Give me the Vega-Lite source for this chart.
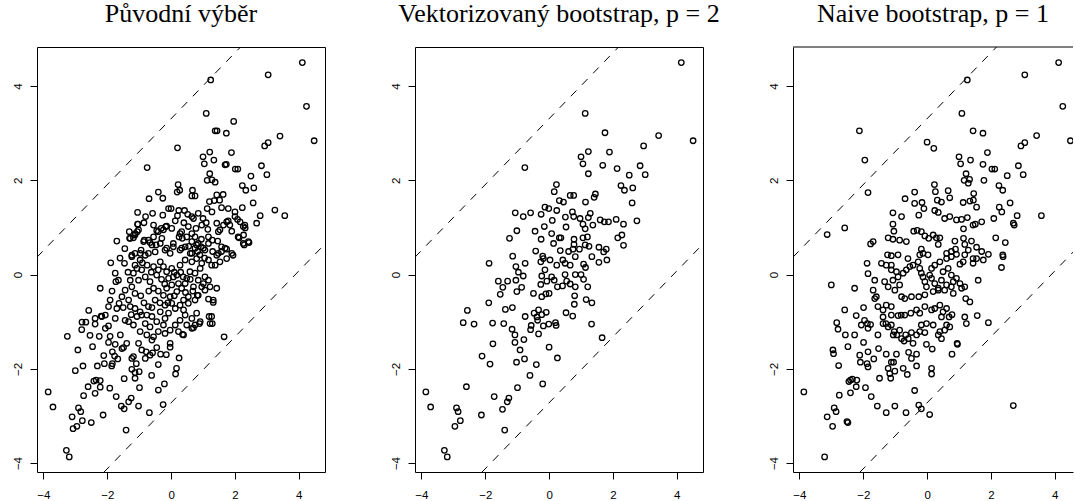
{
"$schema": "https://vega.github.io/schema/vega-lite/v6.json",
"autosize": {"type": "pad"},
"padding": {"left": 11, "top": 0, "right": 0, "bottom": 0},
"background": "white",
"bounds": "flush",
"spacing": 90,
"config": {
  "font": "Liberation Sans",
  "view": {"stroke": "black", "strokeWidth": 1},
  "axis": {"grid": false, "domain": false, "tickColor": "black", "tickSize": 7, "tickWidth": 1, "labelColor": "black", "labelFont": "Liberation Sans", "labelFontSize": 11.5, "labelFlush": false, "labelOverlap": false, "labelBound": false},
  "axisX": {"labelPadding": 10},
  "axisY": {"labelAngle": -90, "labelAlign": "center", "labelBaseline": "alphabetic", "labelPadding": 9},
  "title": {"font": "Liberation Serif", "fontSize": 26, "fontWeight": "normal", "color": "black", "baseline": "alphabetic", "offset": 20, "anchor": "middle", "frame": "group"}
},
"datasets": {
"lines": [{"l":"u","x":-4.2,"y":0.37},{"l":"u","x":4.82,"y":6.68},{"l":"d","x":-4.2,"y":-5.66},{"l":"d","x":4.82,"y":0.65}],
"pts": [
{"p":1,"x":4.11,"y":4.5},{"p":1,"x":3.04,"y":4.24},{"p":1,"x":1.24,"y":4.13},{"p":1,"x":4.24,"y":3.57},{"p":1,"x":4.48,"y":2.84},{"p":1,"x":1.1,"y":3.42},{"p":1,"x":1.96,"y":3.25},{"p":1,"x":1.38,"y":3.05},{"p":1,"x":1.44,"y":3.05},{"p":1,"x":1.73,"y":3.0},{"p":1,"x":3.41,"y":2.94},{"p":1,"x":0.2,"y":2.69},{"p":1,"x":3.04,"y":2.8},{"p":1,"x":2.93,"y":2.73},{"p":1,"x":1.0,"y":2.5},{"p":1,"x":1.21,"y":2.6},{"p":1,"x":1.89,"y":2.59},{"p":1,"x":1.34,"y":2.43},{"p":1,"x":1.04,"y":2.35},{"p":1,"x":-0.75,"y":2.27},{"p":1,"x":1.69,"y":2.33},{"p":1,"x":1.73,"y":2.34},{"p":1,"x":2.01,"y":2.24},{"p":1,"x":2.09,"y":2.24},{"p":1,"x":2.83,"y":2.31},{"p":1,"x":3.0,"y":2.12},{"p":1,"x":2.5,"y":2.09},{"p":1,"x":1.21,"y":2.14},{"p":1,"x":1.13,"y":2.0},{"p":1,"x":1.28,"y":2.01},{"p":1,"x":1.38,"y":1.96},{"p":1,"x":0.22,"y":1.91},{"p":1,"x":2.23,"y":1.89},{"p":1,"x":2.34,"y":1.79},{"p":1,"x":2.59,"y":1.84},{"p":1,"x":-0.4,"y":1.75},{"p":1,"x":0.19,"y":1.75},{"p":1,"x":0.27,"y":1.79},{"p":1,"x":0.67,"y":1.79},{"p":1,"x":0.75,"y":1.67},{"p":1,"x":0.65,"y":1.67},{"p":1,"x":1.43,"y":1.69},{"p":1,"x":1.63,"y":1.7},{"p":1,"x":-0.26,"y":1.62},{"p":1,"x":-0.69,"y":1.61},{"p":1,"x":1.2,"y":1.55},{"p":1,"x":1.35,"y":1.57},{"p":1,"x":1.52,"y":1.58},{"p":1,"x":2.57,"y":1.52},{"p":1,"x":3.25,"y":1.37},{"p":1,"x":3.56,"y":1.25},{"p":1,"x":2.79,"y":1.25},{"p":1,"x":2.68,"y":1.09},{"p":1,"x":-1.05,"y":1.32},{"p":1,"x":-0.8,"y":1.23},{"p":1,"x":-0.58,"y":1.3},{"p":1,"x":-0.26,"y":1.26},{"p":1,"x":-0.08,"y":1.4},{"p":1,"x":0.0,"y":1.4},{"p":1,"x":0.24,"y":1.36},{"p":1,"x":0.42,"y":1.36},{"p":1,"x":0.52,"y":1.28},{"p":1,"x":0.65,"y":1.23},{"p":1,"x":0.85,"y":1.3},{"p":1,"x":1.0,"y":1.19},{"p":1,"x":1.13,"y":1.4},{"p":1,"x":1.28,"y":1.33},{"p":1,"x":1.58,"y":1.42},{"p":1,"x":1.79,"y":1.4},{"p":1,"x":2.0,"y":1.33},{"p":1,"x":2.08,"y":1.17},{"p":1,"x":2.23,"y":1.42},{"p":1,"x":2.31,"y":1.05},{"p":1,"x":2.32,"y":0.99},{"p":1,"x":2.13,"y":0.78},{"p":1,"x":2.27,"y":0.84},{"p":1,"x":2.29,"y":0.63},{"p":1,"x":2.44,"y":0.68},{"p":1,"x":-1.7,"y":0.71},{"p":1,"x":-1.3,"y":0.77},{"p":1,"x":-1.18,"y":0.78},{"p":1,"x":-1.06,"y":0.91},{"p":1,"x":-1.04,"y":1.07},{"p":1,"x":-0.84,"y":0.73},{"p":1,"x":-0.66,"y":0.68},{"p":1,"x":-0.55,"y":0.8},{"p":1,"x":-0.45,"y":0.93},{"p":1,"x":-0.31,"y":0.98},{"p":1,"x":-0.17,"y":1.02},{"p":1,"x":0.02,"y":0.98},{"p":1,"x":0.13,"y":1.14},{"p":1,"x":0.33,"y":0.91},{"p":1,"x":0.49,"y":0.8},{"p":1,"x":0.7,"y":1.19},{"p":1,"x":0.78,"y":0.98},{"p":1,"x":0.96,"y":1.05},{"p":1,"x":1.15,"y":0.96},{"p":1,"x":1.17,"y":0.8},{"p":1,"x":1.43,"y":1.09},{"p":1,"x":1.53,"y":0.95},{"p":1,"x":1.74,"y":1.12},{"p":1,"x":1.84,"y":1.05},{"p":1,"x":1.9,"y":0.92},{"p":1,"x":1.46,"y":0.71},{"p":1,"x":1.58,"y":0.59},{"p":1,"x":1.74,"y":0.54},{"p":1,"x":1.94,"y":0.41},{"p":1,"x":-1.23,"y":0.41},{"p":1,"x":-0.94,"y":0.52},{"p":1,"x":-0.71,"y":0.45},{"p":1,"x":-0.47,"y":0.63},{"p":1,"x":-0.29,"y":0.77},{"p":1,"x":-0.14,"y":0.56},{"p":1,"x":0.07,"y":0.66},{"p":1,"x":0.25,"y":0.8},{"p":1,"x":0.33,"y":0.56},{"p":1,"x":0.65,"y":0.7},{"p":1,"x":0.8,"y":0.63},{"p":1,"x":0.83,"y":0.49},{"p":1,"x":1.01,"y":0.56},{"p":1,"x":1.17,"y":0.66},{"p":1,"x":1.3,"y":0.49},{"p":1,"x":1.48,"y":0.45},{"p":1,"x":-1.13,"y":0.84},{"p":1,"x":-1.31,"y":0.91},
{"p":1,"x":-1.05,"y":1.07},{"p":1,"x":-1.28,"y":0.77},{"p":1,"x":-1.13,"y":0.87},{"p":1,"x":-1.02,"y":0.95},{"p":1,"x":-0.86,"y":0.7},{"p":1,"x":-0.71,"y":0.73},{"p":1,"x":-0.4,"y":0.91},{"p":1,"x":-0.24,"y":0.95},{"p":1,"x":-0.14,"y":1.03},{"p":1,"x":0.28,"y":0.87},{"p":1,"x":0.35,"y":0.77},{"p":1,"x":0.54,"y":1.02},{"p":1,"x":0.65,"y":0.87},{"p":1,"x":0.75,"y":0.8},{"p":1,"x":0.85,"y":0.66},{"p":1,"x":0.94,"y":0.59},{"p":1,"x":1.06,"y":0.52},{"p":1,"x":0.75,"y":0.56},{"p":1,"x":0.65,"y":0.45},{"p":1,"x":0.44,"y":0.59},{"p":1,"x":0.28,"y":0.52},{"p":1,"x":0.07,"y":0.59},{"p":1,"x":-0.03,"y":0.45},{"p":1,"x":-0.19,"y":0.52},{"p":1,"x":-0.34,"y":0.66},{"p":1,"x":-0.5,"y":0.48},{"p":1,"x":-0.6,"y":0.63},{"p":1,"x":-0.81,"y":0.41},{"p":1,"x":-0.97,"y":0.45},{"p":1,"x":-1.13,"y":0.45},{"p":1,"x":1.29,"y":0.73},{"p":1,"x":1.48,"y":0.91},{"p":1,"x":1.64,"y":1.05},{"p":1,"x":1.79,"y":1.14},{"p":1,"x":2.0,"y":1.23},{"p":1,"x":2.16,"y":1.12},{"p":1,"x":2.26,"y":1.02},{"p":1,"x":2.1,"y":0.8},{"p":1,"x":2.26,"y":0.66},{"p":1,"x":2.42,"y":0.7},{"p":1,"x":1.69,"y":0.56},{"p":1,"x":1.58,"y":0.49},{"p":1,"x":1.43,"y":0.41},{"p":1,"x":1.9,"y":0.45},
{"p":1,"x":-1.89,"y":0.25},{"p":1,"x":-1.46,"y":0.24},{"p":1,"x":-1.75,"y":0.03},{"p":1,"x":-1.65,"y":-0.12},{"p":1,"x":-1.73,"y":-0.15},{"p":1,"x":-2.22,"y":-0.29},{"p":1,"x":-1.91,"y":-0.54},{"p":1,"x":-1.96,"y":-0.68},{"p":1,"x":-2.06,"y":-0.86},{"p":1,"x":-2.17,"y":-0.89},{"p":1,"x":-1.96,"y":-1.09},{"p":1,"x":-2.06,"y":-1.14},{"p":1,"x":-1.91,"y":-1.31},{"p":1,"x":-1.59,"y":-1.28},{"p":1,"x":-1.7,"y":-0.72},{"p":1,"x":-1.54,"y":-0.47},{"p":1,"x":-1.44,"y":-0.33},{"p":1,"x":-1.28,"y":-0.12},{"p":1,"x":-1.18,"y":0.03},{"p":1,"x":-1.13,"y":0.2},{"p":1,"x":-0.97,"y":0.31},{"p":1,"x":-1.23,"y":0.38},{"p":1,"x":-1.07,"y":0.13},{"p":1,"x":-0.92,"y":0.1},{"p":1,"x":-0.81,"y":-0.05},{"p":1,"x":-1.02,"y":-0.12},{"p":1,"x":-1.23,"y":-0.26},{"p":1,"x":-1.13,"y":-0.4},{"p":1,"x":-1.33,"y":-0.54},{"p":1,"x":-1.28,"y":-0.68},{"p":1,"x":-1.13,"y":-0.72},{"p":1,"x":-0.97,"y":-0.79},{"p":1,"x":-1.07,"y":-0.89},{"p":1,"x":-1.33,"y":-1.0},{"p":1,"x":-1.18,"y":-1.07},{"p":1,"x":-0.92,"y":-0.86},{"p":1,"x":-0.71,"y":-0.68},{"p":1,"x":-0.76,"y":-0.86},{"p":1,"x":-0.6,"y":-0.89},{"p":1,"x":-0.81,"y":-1.04},{"p":1,"x":-0.66,"y":-1.11},{"p":1,"x":-0.97,"y":-1.21},{"p":1,"x":-0.76,"y":-1.28},{"p":1,"x":-0.55,"y":-1.32},{"p":1,"x":-0.4,"y":-1.21},{"p":1,"x":-0.24,"y":-1.07},{"p":1,"x":-0.45,"y":-1.0},{"p":1,"x":-0.19,"y":-0.93},{"p":1,"x":-0.08,"y":-0.82},{"p":1,"x":-0.34,"y":-0.79},{"p":1,"x":-0.5,"y":-0.54},{"p":1,"x":-0.55,"y":-0.29},{"p":1,"x":-0.66,"y":-0.15},{"p":1,"x":-0.45,"y":-0.01},{"p":1,"x":-0.55,"y":0.17},{"p":1,"x":-0.34,"y":0.27},{"p":1,"x":-0.24,"y":0.17},{"p":1,"x":-0.14,"y":0.06},{"p":1,"x":0.02,"y":0.13},{"p":1,"x":-0.08,"y":-0.08},{"p":1,"x":0.07,"y":-0.05},{"p":1,"x":0.18,"y":-0.01},{"p":1,"x":0.23,"y":-0.19},{"p":1,"x":0.02,"y":-0.22},{"p":1,"x":-0.14,"y":-0.29},{"p":1,"x":-0.24,"y":-0.44},{"p":1,"x":-0.03,"y":-0.47},{"p":1,"x":0.18,"y":-0.36},{"p":1,"x":0.33,"y":-0.29},{"p":1,"x":0.44,"y":-0.19},{"p":1,"x":0.49,"y":-0.08},{"p":1,"x":0.59,"y":0.06},{"p":1,"x":0.28,"y":0.2},{"p":1,"x":0.44,"y":0.31},{"p":1,"x":0.65,"y":0.27},{"p":1,"x":0.8,"y":0.34},{"p":1,"x":0.96,"y":0.24},{"p":1,"x":0.91,"y":0.13},{"p":1,"x":0.75,"y":0.03},{"p":1,"x":0.85,"y":-0.12},{"p":1,"x":0.7,"y":-0.26},{"p":1,"x":0.54,"y":-0.47},{"p":1,"x":0.39,"y":-0.54},{"p":1,"x":0.28,"y":-0.65},{"p":1,"x":0.13,"y":-0.72},{"p":1,"x":0.02,"y":-0.61},{"p":1,"x":-0.19,"y":-0.65},{"p":1,"x":0.39,"y":-0.75},{"p":1,"x":0.54,"y":-0.61},{"p":1,"x":0.75,"y":-0.54},{"p":1,"x":0.85,"y":-0.44},{"p":1,"x":1.06,"y":-0.33},{"p":1,"x":1.01,"y":-0.19},{"p":1,"x":1.17,"y":-0.12},{"p":1,"x":1.22,"y":-0.26},{"p":1,"x":1.32,"y":-0.54},{"p":1,"x":1.43,"y":-0.29},{"p":1,"x":1.17,"y":0.31},{"p":1,"x":1.27,"y":0.2},{"p":1,"x":1.53,"y":0.27},{"p":1,"x":1.74,"y":0.34},{"p":1,"x":0.44,"y":-0.86},{"p":1,"x":0.28,"y":-0.97},{"p":1,"x":0.13,"y":-1.07},{"p":1,"x":-0.03,"y":-1.18},{"p":1,"x":0.23,"y":-1.21},{"p":1,"x":0.49,"y":-1.07},{"p":1,"x":0.65,"y":-0.93},{"p":1,"x":0.8,"y":-0.82},{"p":1,"x":0.91,"y":-1.0},{"p":1,"x":0.75,"y":-1.07},{"p":1,"x":1.27,"y":-0.89},{"p":1,"x":1.22,"y":-1.04},{"p":1,"x":0.39,"y":-1.28},{"p":1,"x":0.65,"y":-1.14},{"p":1,"x":-0.19,"y":-1.25},{"p":1,"x":1.66,"y":-1.32},{"p":1,"x":-1.44,"y":-0.97},{"p":1,"x":-1.75,"y":-0.93},{"p":1,"x":-1.63,"y":-0.61},
{"p":1,"x":-0.9,"y":0.25},{"p":1,"x":-0.75,"y":0.2},{"p":1,"x":-0.62,"y":0.05},{"p":1,"x":-0.4,"y":0.1},{"p":1,"x":-0.3,"y":-0.1},{"p":1,"x":-0.2,"y":-0.2},{"p":1,"x":0.1,"y":0.05},{"p":1,"x":0.3,"y":0.05},{"p":1,"x":0.38,"y":-0.05},{"p":1,"x":0.6,"y":-0.1},{"p":1,"x":0.68,"y":-0.35},{"p":1,"x":0.45,"y":-0.38},{"p":1,"x":0.1,"y":-0.45},{"p":1,"x":-0.1,"y":-0.6},{"p":1,"x":-0.35,"y":-0.6},{"p":1,"x":-0.6,"y":-0.7},{"p":1,"x":-0.85,"y":-0.6},{"p":1,"x":-0.95,"y":-0.45},{"p":1,"x":-0.7,"y":-0.35},{"p":1,"x":-0.4,"y":-0.35},{"p":1,"x":0.6,"y":0.45},{"p":1,"x":0.9,"y":0.42},{"p":1,"x":1.05,"y":0.35},{"p":1,"x":0.55,"y":0.6},{"p":1,"x":0.95,"y":0.75},{"p":1,"x":1.1,"y":1.1},{"p":1,"x":0.4,"y":1.1},{"p":1,"x":0.2,"y":1.25},{"p":1,"x":-0.55,"y":1.05},{"p":1,"x":-0.85,"y":1.1},{"p":1,"x":-1.45,"y":0.55},{"p":1,"x":-1.6,"y":0.35},{"p":1,"x":-1.35,"y":0.05},{"p":1,"x":-1.5,"y":-0.7},{"p":1,"x":-1.85,"y":-0.35},{"p":1,"x":-1.25,"y":-0.85},{"p":1,"x":-0.45,"y":-1.55},{"p":1,"x":-0.15,"y":-1.7},
{"p":1,"x":-2.58,"y":-0.76},{"p":1,"x":-2.79,"y":-1.01},{"p":1,"x":-2.67,"y":-1.01},{"p":1,"x":-2.8,"y":-1.17},{"p":1,"x":-2.38,"y":-1.05},{"p":1,"x":-2.38,"y":-0.93},{"p":1,"x":-3.25,"y":-1.31},{"p":1,"x":-2.54,"y":-1.29},{"p":1,"x":-2.92,"y":-1.6},{"p":1,"x":-2.46,"y":-1.53},{"p":1,"x":-2.25,"y":-1.31},{"p":1,"x":-2.19,"y":-0.88},
{"p":1,"x":-3.85,"y":-2.49},{"p":1,"x":-3.7,"y":-2.81},{"p":1,"x":-3.28,"y":-3.73},{"p":1,"x":-3.19,"y":-3.87},{"p":1,"x":-3.1,"y":-3.02},{"p":1,"x":-3.07,"y":-3.27},{"p":1,"x":-2.95,"y":-3.22},{"p":1,"x":-2.9,"y":-2.83},{"p":1,"x":-2.83,"y":-2.91},{"p":1,"x":-2.78,"y":-3.1},{"p":1,"x":-2.5,"y":-3.14},{"p":1,"x":-2.13,"y":-2.98},{"p":1,"x":-1.41,"y":-3.3},{"p":1,"x":-2.74,"y":-2.57},{"p":1,"x":-2.6,"y":-2.38},{"p":1,"x":-2.42,"y":-2.26},{"p":1,"x":-2.35,"y":-2.24},{"p":1,"x":-2.22,"y":-2.25},{"p":1,"x":-2.22,"y":-2.39},{"p":1,"x":-2.38,"y":-2.52},{"p":1,"x":-1.92,"y":-2.41},{"p":1,"x":-1.72,"y":-2.59},{"p":1,"x":-1.56,"y":-2.79},{"p":1,"x":-1.47,"y":-2.85},{"p":1,"x":-1.33,"y":-2.7},{"p":1,"x":-1.25,"y":-2.62},{"p":1,"x":-1.02,"y":-2.79},{"p":1,"x":-0.68,"y":-2.93},{"p":1,"x":-0.25,"y":-2.76},{"p":1,"x":-0.4,"y":-2.45},{"p":1,"x":-0.21,"y":-2.32},{"p":1,"x":-0.99,"y":-2.4},{"p":1,"x":-1.47,"y":-2.21},{"p":1,"x":-1.13,"y":-2.2},{"p":1,"x":-1.23,"y":-2.01},{"p":1,"x":-1.13,"y":-2.08},{"p":1,"x":-1.0,"y":-2.06},{"p":1,"x":-0.61,"y":-2.14},{"p":1,"x":0.14,"y":-2.11},{"p":1,"x":0.17,"y":-1.99},{"p":1,"x":-0.4,"y":-1.91},{"p":1,"x":0.25,"y":-1.77},{"p":1,"x":-3.0,"y":-2.04},{"p":1,"x":-2.76,"y":-1.94},{"p":1,"x":-2.31,"y":-1.94},{"p":1,"x":-2.09,"y":-1.89},{"p":1,"x":-2.11,"y":-1.72},{"p":1,"x":-1.86,"y":-1.94},{"p":1,"x":-1.84,"y":-1.89},{"p":1,"x":-1.67,"y":-1.79},{"p":1,"x":-1.77,"y":-1.73},{"p":1,"x":-1.84,"y":-1.64},{"p":1,"x":-1.54,"y":-1.57},{"p":1,"x":-1.49,"y":-1.55},{"p":1,"x":-1.18,"y":-1.74},{"p":1,"x":-1.09,"y":-1.89},{"p":1,"x":-0.92,"y":-1.6},{"p":1,"x":-0.81,"y":-1.78},{"p":1,"x":-0.66,"y":-1.71},{"p":1,"x":-0.58,"y":-1.66},{"p":1,"x":-0.33,"y":-1.69},{"p":1,"x":-0.03,"y":-1.46},{"p":1,"x":-0.03,"y":-1.54},{"p":1,"x":-1.96,"y":-1.44},{"p":1,"x":-1.75,"y":-1.48},{"p":1,"x":-1.39,"y":-1.46},{"p":1,"x":-1.02,"y":-1.46},{"p":1,"x":-0.78,"y":-1.64},{"p":1,"x":-0.6,"y":-1.39},{"p":1,"x":-1.23,"y":-1.78},
{"p":1,"x":1.32,"y":-0.59},{"p":1,"x":1.17,"y":-0.52},{"p":1,"x":1.19,"y":-0.89},{"p":1,"x":1.29,"y":-1.04},{"p":1,"x":0.89,"y":-1.04},{"p":1,"x":0.7,"y":-1.13},{"p":1,"x":0.36,"y":-1.27},{"p":1,"x":0.96,"y":-0.26},{"p":1,"x":0.82,"y":-0.44},{"p":1,"x":1.06,"y":-0.05},{"p":1,"x":1.38,"y":0.2},
{"p":2,"x":4.14,"y":4.5},{"p":2,"x":1.13,"y":3.42},{"p":2,"x":1.75,"y":3.01},{"p":2,"x":3.43,"y":2.95},{"p":2,"x":4.51,"y":2.84},{"p":2,"x":2.96,"y":2.73},{"p":2,"x":1.89,"y":2.6},{"p":2,"x":1.0,"y":2.5},{"p":2,"x":1.23,"y":2.61},{"p":2,"x":1.06,"y":2.35},{"p":2,"x":-0.76,"y":2.27},{"p":2,"x":1.68,"y":2.32},{"p":2,"x":2.13,"y":2.25},{"p":2,"x":2.85,"y":2.31},{"p":2,"x":3.01,"y":2.12},{"p":2,"x":2.51,"y":2.11},{"p":2,"x":1.23,"y":2.14},{"p":2,"x":0.23,"y":1.91},{"p":2,"x":0.16,"y":1.76},{"p":2,"x":2.25,"y":1.89},{"p":2,"x":2.36,"y":1.79},{"p":2,"x":2.62,"y":1.84},{"p":2,"x":0.66,"y":1.68},{"p":2,"x":0.77,"y":1.68},{"p":2,"x":1.45,"y":1.71},{"p":2,"x":1.41,"y":1.64},{"p":2,"x":0.32,"y":1.57},{"p":2,"x":0.45,"y":1.54},{"p":2,"x":1.14,"y":1.54},{"p":2,"x":2.6,"y":1.52},{"p":2,"x":-1.06,"y":1.31},{"p":2,"x":-0.81,"y":1.23},{"p":2,"x":-0.58,"y":1.31},{"p":2,"x":-0.25,"y":1.28},{"p":2,"x":-0.13,"y":1.43},{"p":2,"x":-0.01,"y":1.4},{"p":2,"x":0.1,"y":1.15},{"p":2,"x":0.24,"y":1.36},{"p":2,"x":0.51,"y":1.22},{"p":2,"x":0.73,"y":1.33},{"p":2,"x":0.77,"y":1.23},{"p":2,"x":0.97,"y":1.19},{"p":2,"x":1.23,"y":1.21},{"p":2,"x":1.29,"y":1.3},{"p":2,"x":1.37,"y":1.05},{"p":2,"x":1.6,"y":1.16},{"p":2,"x":1.73,"y":1.12},{"p":2,"x":1.86,"y":1.12},{"p":2,"x":2.1,"y":1.17},{"p":2,"x":2.33,"y":1.07},{"p":2,"x":2.75,"y":1.14},{"p":2,"x":-0.15,"y":1.02},{"p":2,"x":0.53,"y":1.01},{"p":2,"x":1.06,"y":1.07},{"p":2,"x":1.13,"y":0.97},{"p":2,"x":-0.44,"y":0.92},{"p":2,"x":-1.01,"y":0.93},{"p":2,"x":-1.24,"y":0.77},{"p":2,"x":-0.25,"y":0.75},{"p":2,"x":0.08,"y":0.87},{"p":2,"x":0.32,"y":0.78},{"p":2,"x":0.37,"y":0.78},{"p":2,"x":0.78,"y":0.75},{"p":2,"x":1.06,"y":0.78},{"p":2,"x":1.2,"y":0.8},{"p":2,"x":2.15,"y":0.78},{"p":2,"x":2.28,"y":0.84},{"p":2,"x":2.33,"y":0.62},{"p":2,"x":0.78,"y":0.64},{"p":2,"x":0.95,"y":0.54},{"p":2,"x":1.13,"y":0.63},{"p":2,"x":1.25,"y":0.6},{"p":2,"x":1.56,"y":0.58},{"p":2,"x":1.79,"y":0.54},{"p":2,"x":1.71,"y":0.48},{"p":2,"x":-0.42,"y":0.5},{"p":2,"x":-0.2,"y":0.39},{"p":2,"x":0.35,"y":0.51},{"p":2,"x":0.61,"y":0.49},{"p":2,"x":0.75,"y":0.54},{"p":2,"x":-1.14,"y":0.39},{"p":2,"x":0.14,"y":0.66},
{"p":2,"x":-1.88,"y":0.24},{"p":2,"x":-0.75,"y":0.24},{"p":2,"x":-1.04,"y":0.17},{"p":2,"x":-0.96,"y":0.05},{"p":2,"x":-0.81,"y":-0.03},{"p":2,"x":-1.3,"y":-0.14},{"p":2,"x":-1.59,"y":-0.14},{"p":2,"x":-1.45,"y":-0.27},{"p":2,"x":-1.53,"y":-0.42},{"p":2,"x":-1.04,"y":-0.12},{"p":2,"x":-0.86,"y":-0.27},{"p":2,"x":-1.01,"y":-0.36},{"p":2,"x":-0.49,"y":-0.4},{"p":2,"x":-0.26,"y":0.27},{"p":2,"x":-0.18,"y":0.34},{"p":2,"x":0.03,"y":0.31},{"p":2,"x":0.24,"y":0.2},{"p":2,"x":0.43,"y":0.31},{"p":2,"x":0.5,"y":0.24},{"p":2,"x":0.66,"y":0.2},{"p":2,"x":0.82,"y":0.38},{"p":2,"x":1.08,"y":0.22},{"p":2,"x":1.14,"y":0.15},{"p":2,"x":1.34,"y":0.38},{"p":2,"x":1.56,"y":0.26},{"p":2,"x":1.81,"y":0.31},{"p":2,"x":-0.23,"y":-0.03},{"p":2,"x":-0.13,"y":0.1},{"p":2,"x":-0.07,"y":-0.14},{"p":2,"x":0.08,"y":-0.05},{"p":2,"x":0.16,"y":-0.12},{"p":2,"x":0.26,"y":-0.26},{"p":2,"x":0.42,"y":-0.24},{"p":2,"x":0.5,"y":0.0},{"p":2,"x":0.55,"y":-0.14},{"p":2,"x":0.66,"y":-0.2},{"p":2,"x":0.82,"y":0.0},{"p":2,"x":0.82,"y":-0.26},{"p":2,"x":1.0,"y":0.0},{"p":2,"x":1.08,"y":-0.1},{"p":2,"x":1.21,"y":-0.26},{"p":2,"x":-0.26,"y":-0.21},{"p":2,"x":-0.23,"y":-0.47},{"p":2,"x":-0.1,"y":-0.41},{"p":2,"x":0.0,"y":-0.4},{"p":2,"x":0.8,"y":-0.45},{"p":2,"x":0.79,"y":-0.63},{"p":2,"x":1.16,"y":-0.53},{"p":2,"x":1.34,"y":-0.6},{"p":2,"x":-1.89,"y":-0.6},{"p":2,"x":-2.56,"y":-0.76},{"p":2,"x":-1.37,"y":-0.74},{"p":2,"x":-1.15,"y":-0.7},{"p":2,"x":-0.33,"y":-0.75},{"p":2,"x":-0.47,"y":-0.82},{"p":2,"x":-0.38,"y":-0.9},{"p":2,"x":-0.36,"y":-0.97},{"p":2,"x":-0.23,"y":-0.85},{"p":2,"x":-0.09,"y":-0.8},{"p":2,"x":-0.75,"y":-0.89},{"p":2,"x":0.53,"y":-0.81},{"p":2,"x":0.74,"y":-0.88},{"p":2,"x":-2.69,"y":-1.02},{"p":2,"x":-2.35,"y":-1.05},{"p":2,"x":-1.77,"y":-1.03},{"p":2,"x":-1.42,"y":-1.04},{"p":2,"x":-1.16,"y":-1.16},{"p":2,"x":-1.07,"y":-1.28},{"p":2,"x":-1.07,"y":-1.44},{"p":2,"x":-0.91,"y":-1.6},{"p":2,"x":-0.79,"y":-1.38},{"p":2,"x":-0.58,"y":-1.17},{"p":2,"x":-0.56,"y":-1.08},{"p":2,"x":-0.33,"y":-1.26},{"p":2,"x":-0.18,"y":-1.09},{"p":2,"x":-0.01,"y":-1.05},{"p":2,"x":0.2,"y":-1.02},{"p":2,"x":0.22,"y":-1.08},{"p":2,"x":1.33,"y":-1.05},{"p":2,"x":1.66,"y":-1.34},{"p":2,"x":0.0,"y":-1.54},{"p":2,"x":0.26,"y":-1.77},{"p":2,"x":-1.76,"y":-1.47},{"p":2,"x":-2.1,"y":-1.73},{"p":2,"x":-1.85,"y":-1.9},{"p":2,"x":-1.02,"y":-1.86},{"p":2,"x":-0.77,"y":-1.79},{"p":2,"x":-0.4,"y":-1.91},{"p":2,"x":-0.6,"y":-2.14},{"p":2,"x":-0.2,"y":-2.32},{"p":2,"x":-0.99,"y":-2.4},{"p":2,"x":-1.72,"y":-2.59},{"p":2,"x":-2.59,"y":-2.38},{"p":2,"x":-1.31,"y":-2.7},{"p":2,"x":-1.26,"y":-2.62},{"p":2,"x":-1.46,"y":-2.86},{"p":2,"x":-2.12,"y":-2.98},{"p":2,"x":-2.9,"y":-2.83},{"p":2,"x":-2.85,"y":-2.91},{"p":2,"x":-2.78,"y":-3.1},{"p":2,"x":-2.95,"y":-3.22},{"p":2,"x":-1.39,"y":-3.3},{"p":2,"x":-3.86,"y":-2.49},{"p":2,"x":-3.71,"y":-2.81},{"p":2,"x":-3.28,"y":-3.73},{"p":2,"x":-3.19,"y":-3.87},
{"p":3,"x":4.12,"y":4.5},{"p":3,"x":3.06,"y":4.24},{"p":3,"x":1.26,"y":4.13},{"p":3,"x":4.25,"y":3.57},{"p":3,"x":4.49,"y":2.84},{"p":3,"x":-2.12,"y":3.05},{"p":3,"x":1.09,"y":3.42},{"p":3,"x":1.44,"y":3.05},{"p":3,"x":1.75,"y":3.0},{"p":3,"x":3.43,"y":2.95},{"p":3,"x":0.0,"y":2.81},{"p":3,"x":0.21,"y":2.68},{"p":3,"x":2.94,"y":2.73},{"p":3,"x":3.06,"y":2.8},{"p":3,"x":1.89,"y":2.59},{"p":3,"x":1.0,"y":2.5},{"p":3,"x":1.05,"y":2.35},{"p":3,"x":1.36,"y":2.43},{"p":3,"x":-1.95,"y":2.43},{"p":3,"x":1.75,"y":2.34},{"p":3,"x":2.03,"y":2.24},{"p":3,"x":2.12,"y":2.24},{"p":3,"x":2.86,"y":2.31},{"p":3,"x":3.01,"y":2.12},{"p":3,"x":2.51,"y":2.1},{"p":3,"x":1.22,"y":2.14},{"p":3,"x":1.16,"y":2.0},{"p":3,"x":1.33,"y":2.02},{"p":3,"x":1.29,"y":1.94},{"p":3,"x":1.78,"y":2.0},{"p":3,"x":0.23,"y":1.91},{"p":3,"x":-1.85,"y":1.74},{"p":3,"x":2.25,"y":1.89},{"p":3,"x":2.37,"y":1.79},{"p":3,"x":0.26,"y":1.76},{"p":3,"x":-0.39,"y":1.75},{"p":3,"x":-0.69,"y":1.61},{"p":3,"x":0.32,"y":1.58},{"p":3,"x":0.45,"y":1.54},{"p":3,"x":0.66,"y":1.78},{"p":3,"x":0.71,"y":1.63},{"p":3,"x":1.13,"y":1.53},{"p":3,"x":1.34,"y":1.56},{"p":3,"x":1.46,"y":1.72},{"p":3,"x":1.45,"y":1.58},{"p":3,"x":1.55,"y":1.43},{"p":3,"x":2.6,"y":1.52},{"p":3,"x":2.26,"y":1.43},{"p":3,"x":2.34,"y":1.33},{"p":3,"x":-0.39,"y":1.51},{"p":3,"x":-0.16,"y":1.53},{"p":3,"x":-0.1,"y":1.4},{"p":3,"x":-1.07,"y":1.31},{"p":3,"x":-0.8,"y":1.23},{"p":3,"x":-0.26,"y":1.26},{"p":3,"x":0.24,"y":1.36},{"p":3,"x":0.35,"y":1.32},{"p":3,"x":0.55,"y":1.19},{"p":3,"x":0.71,"y":1.23},{"p":3,"x":0.92,"y":1.16},{"p":3,"x":1.08,"y":1.17},{"p":3,"x":1.26,"y":1.21},{"p":3,"x":1.51,"y":1.07},{"p":3,"x":1.44,"y":1.05},{"p":3,"x":1.71,"y":1.12},{"p":3,"x":2.09,"y":1.19},{"p":3,"x":2.82,"y":1.25},{"p":3,"x":3.58,"y":1.25},{"p":3,"x":2.7,"y":1.09},{"p":3,"x":2.73,"y":1.05},{"p":3,"x":-1.07,"y":1.07},{"p":3,"x":-1.04,"y":0.92},{"p":3,"x":1.14,"y":0.97},{"p":3,"x":-2.58,"y":0.99},{"p":3,"x":-3.13,"y":0.85},{"p":3,"x":-1.77,"y":0.65},{"p":3,"x":-1.69,"y":0.7},{"p":3,"x":-1.22,"y":0.78},{"p":3,"x":-1.07,"y":0.75},{"p":3,"x":-0.86,"y":0.73},{"p":3,"x":-0.65,"y":0.7},{"p":3,"x":-0.42,"y":0.92},{"p":3,"x":-0.31,"y":0.94},{"p":3,"x":-0.18,"y":0.91},{"p":3,"x":-0.07,"y":0.82},{"p":3,"x":0.05,"y":0.77},{"p":3,"x":0.19,"y":0.84},{"p":3,"x":0.29,"y":0.78},{"p":3,"x":0.4,"y":0.78},{"p":3,"x":0.35,"y":0.64},{"p":3,"x":0.87,"y":0.71},{"p":3,"x":1.14,"y":0.77},{"p":3,"x":1.18,"y":0.64},{"p":3,"x":1.39,"y":0.71},{"p":3,"x":1.55,"y":0.58},{"p":3,"x":1.71,"y":0.49},{"p":3,"x":1.92,"y":0.43},{"p":3,"x":2.15,"y":0.78},{"p":3,"x":2.45,"y":0.68},{"p":3,"x":2.37,"y":0.42},{"p":3,"x":-1.24,"y":0.42},{"p":3,"x":-1.12,"y":0.4},{"p":3,"x":-0.91,"y":0.42},{"p":3,"x":-0.6,"y":0.34},{"p":3,"x":-0.23,"y":0.42},{"p":3,"x":-0.18,"y":0.54},{"p":3,"x":-0.13,"y":0.45},{"p":3,"x":0.03,"y":0.42},{"p":3,"x":0.61,"y":0.45},{"p":3,"x":0.76,"y":0.49},{"p":3,"x":0.89,"y":0.54},{"p":3,"x":0.92,"y":0.43},{"p":3,"x":1.18,"y":0.42},{"p":3,"x":1.29,"y":0.52},{"p":3,"x":1.55,"y":0.34},
{"p":3,"x":-3.0,"y":-0.22},{"p":3,"x":-3.86,"y":-2.49},{"p":3,"x":-3.21,"y":-3.87},{"p":3,"x":-3.13,"y":-3.02},{"p":3,"x":-2.96,"y":-3.22},{"p":3,"x":-2.91,"y":-2.83},{"p":3,"x":-2.85,"y":-2.91},{"p":3,"x":-2.51,"y":-3.12},{"p":3,"x":-2.48,"y":-3.14},{"p":3,"x":-2.75,"y":-2.56},{"p":3,"x":-2.4,"y":-2.51},{"p":3,"x":-2.45,"y":-2.27},{"p":3,"x":-2.4,"y":-2.24},{"p":3,"x":-2.34,"y":-2.22},{"p":3,"x":-2.2,"y":-2.24},{"p":3,"x":-2.22,"y":-2.38},{"p":3,"x":-1.93,"y":-2.4},{"p":3,"x":-1.75,"y":-2.59},{"p":3,"x":-1.56,"y":-2.79},{"p":3,"x":-1.28,"y":-2.93},{"p":3,"x":-1.01,"y":-2.79},{"p":3,"x":-0.66,"y":-2.93},{"p":3,"x":-0.39,"y":-2.46},{"p":3,"x":-0.26,"y":-2.77},{"p":3,"x":-0.18,"y":-2.85},{"p":3,"x":0.08,"y":-2.97},{"p":3,"x":2.7,"y":-2.78},{"p":3,"x":-2.77,"y":-1.93},{"p":3,"x":-2.95,"y":-1.6},{"p":3,"x":-2.93,"y":-1.68},{"p":3,"x":-2.56,"y":-1.28},{"p":3,"x":-2.48,"y":-1.53},{"p":3,"x":-2.83,"y":-1.02},{"p":3,"x":-2.79,"y":-1.16},{"p":3,"x":-2.58,"y":-0.75},{"p":3,"x":-2.27,"y":-1.28},{"p":3,"x":-2.22,"y":-0.87},{"p":3,"x":-2.27,"y":-0.29},{"p":3,"x":-1.99,"y":-0.7},{"p":3,"x":-1.99,"y":-1.44},{"p":3,"x":-2.11,"y":-1.71},{"p":3,"x":-2.09,"y":-1.86},{"p":3,"x":-1.88,"y":-1.89},{"p":3,"x":-1.85,"y":-1.96},{"p":3,"x":-1.85,"y":-1.64},{"p":3,"x":-1.67,"y":-1.79},{"p":3,"x":-1.49,"y":-2.2},{"p":3,"x":-1.52,"y":-1.57},{"p":3,"x":-1.28,"y":-1.69},{"p":3,"x":-1.22,"y":-1.99},{"p":3,"x":-1.17,"y":-2.1},{"p":3,"x":-1.12,"y":-1.86},{"p":3,"x":-1.05,"y":-1.86},{"p":3,"x":-1.14,"y":-2.2},{"p":3,"x":-1.01,"y":-2.05},{"p":3,"x":-0.96,"y":-1.69},{"p":3,"x":-0.75,"y":-1.99},{"p":3,"x":-0.62,"y":-2.12},{"p":3,"x":-0.58,"y":-1.65},{"p":3,"x":-0.49,"y":-1.78},{"p":3,"x":-0.33,"y":-1.69},{"p":3,"x":-0.33,"y":-1.94},{"p":3,"x":0.14,"y":-1.99},{"p":3,"x":0.14,"y":-2.11},{"p":3,"x":-0.02,"y":-1.48},{"p":3,"x":0.16,"y":-1.58},{"p":3,"x":0.78,"y":-1.69},{"p":3,"x":0.95,"y":-1.48},{"p":3,"x":-1.54,"y":-1.28},{"p":3,"x":-1.85,"y":-1.14},{"p":3,"x":-1.87,"y":-1.04},{"p":3,"x":-2.06,"y":-1.07},{"p":3,"x":-1.77,"y":-1.06},{"p":3,"x":-1.96,"y":-0.97},
{"p":3,"x":-1.38,"y":-1.04},{"p":3,"x":-1.29,"y":-1.04},{"p":3,"x":-1.22,"y":-1.11},{"p":3,"x":-1.12,"y":-1.07},{"p":3,"x":-1.03,"y":-1.21},{"p":3,"x":-1.06,"y":-1.28},{"p":3,"x":-0.95,"y":-1.28},{"p":3,"x":-0.86,"y":-1.18},{"p":3,"x":-0.8,"y":-1.36},{"p":3,"x":-0.72,"y":-1.41},{"p":3,"x":-0.67,"y":-1.28},{"p":3,"x":-0.59,"y":-1.36},{"p":3,"x":-0.44,"y":-1.46},{"p":3,"x":-0.49,"y":-1.23},{"p":3,"x":-0.33,"y":-1.28},{"p":3,"x":-0.23,"y":-1.21},{"p":3,"x":-0.18,"y":-1.07},{"p":3,"x":-0.07,"y":-1.23},{"p":3,"x":-0.02,"y":-1.04},{"p":3,"x":0.19,"y":-1.07},{"p":3,"x":0.35,"y":-1.28},{"p":3,"x":0.4,"y":-1.21},{"p":3,"x":0.45,"y":-1.36},{"p":3,"x":0.55,"y":-1.18},{"p":3,"x":0.61,"y":-1.07},{"p":3,"x":0.71,"y":-1.11},
{"p":3,"x":-1.38,"y":-0.9},{"p":3,"x":-1.12,"y":-0.86},{"p":3,"x":-0.91,"y":-0.87},{"p":3,"x":-0.81,"y":-0.86},{"p":3,"x":-0.7,"y":-0.86},{"p":3,"x":-0.51,"y":-0.82},{"p":3,"x":-0.33,"y":-0.75},{"p":3,"x":-0.23,"y":-0.82},{"p":3,"x":-0.07,"y":-0.68},{"p":3,"x":0.14,"y":-0.75},{"p":3,"x":0.24,"y":-0.72},{"p":3,"x":0.4,"y":-0.65},{"p":3,"x":0.45,"y":-0.9},{"p":3,"x":0.5,"y":-0.79},{"p":3,"x":0.61,"y":-0.72},{"p":3,"x":0.69,"y":-0.9},{"p":3,"x":0.78,"y":-0.85},
{"p":3,"x":-1.54,"y":-0.68},{"p":3,"x":-1.38,"y":-0.75},{"p":3,"x":-1.28,"y":-0.65},{"p":3,"x":-1.12,"y":-0.68},{"p":3,"x":-0.8,"y":-0.47},{"p":3,"x":-0.7,"y":-0.51},{"p":3,"x":-0.49,"y":-0.47},{"p":3,"x":-0.26,"y":-0.47},{"p":3,"x":-0.07,"y":-0.43},{"p":3,"x":0.19,"y":-0.36},{"p":3,"x":0.35,"y":-0.33},{"p":3,"x":0.55,"y":-0.33},{"p":3,"x":0.61,"y":-0.22},{"p":3,"x":0.76,"y":-0.26},{"p":3,"x":0.82,"y":-0.4},{"p":3,"x":1.08,"y":-0.29},{"p":3,"x":1.18,"y":-0.26},{"p":3,"x":1.21,"y":-0.51},{"p":3,"x":1.34,"y":-0.58},{"p":3,"x":1.18,"y":-0.9},{"p":3,"x":1.23,"y":-1.04},{"p":3,"x":1.57,"y":-0.87},{"p":3,"x":1.92,"y":-1.02},{"p":3,"x":0.94,"y":-1.46},{"p":3,"x":1.6,"y":-0.12},{"p":3,"x":2.33,"y":0.15},{"p":3,"x":2.38,"y":0.38},{"p":3,"x":1.76,"y":0.31},{"p":3,"x":1.44,"y":0.24},{"p":3,"x":1.13,"y":0.27},{"p":3,"x":1.03,"y":0.22},{"p":3,"x":1.44,"y":0.34},
{"p":3,"x":-1.85,"y":0.02},{"p":3,"x":-1.88,"y":0.24},{"p":3,"x":-1.64,"y":-0.12},{"p":3,"x":-1.69,"y":-0.33},{"p":3,"x":-1.64,"y":-0.51},{"p":3,"x":-1.59,"y":-0.47},{"p":3,"x":-1.43,"y":0.24},{"p":3,"x":-1.28,"y":0.2},{"p":3,"x":-1.12,"y":0.2},{"p":3,"x":-1.12,"y":0.1},{"p":3,"x":-0.96,"y":0.06},{"p":3,"x":-0.91,"y":-0.05},{"p":3,"x":-1.07,"y":-0.12},{"p":3,"x":-1.33,"y":-0.15},{"p":3,"x":-1.22,"y":-0.26},{"p":3,"x":-1.01,"y":-0.33},{"p":3,"x":-0.86,"y":-0.22},{"p":3,"x":-0.75,"y":0.03},{"p":3,"x":-0.65,"y":0.1},{"p":3,"x":-0.54,"y":0.17},{"p":3,"x":-0.44,"y":0.2},{"p":3,"x":-0.28,"y":0.27},{"p":3,"x":-0.23,"y":0.13},{"p":3,"x":-0.18,"y":0.03},{"p":3,"x":-0.13,"y":-0.05},{"p":3,"x":-0.07,"y":-0.15},{"p":3,"x":-0.02,"y":-0.26},{"p":3,"x":0.08,"y":-0.01},{"p":3,"x":0.14,"y":-0.08},{"p":3,"x":0.24,"y":-0.19},{"p":3,"x":0.35,"y":-0.29},{"p":3,"x":0.45,"y":-0.12},{"p":3,"x":0.5,"y":0.06},{"p":3,"x":0.66,"y":0.13},{"p":3,"x":0.76,"y":-0.01},{"p":3,"x":0.82,"y":-0.15},{"p":3,"x":0.92,"y":-0.08},{"p":3,"x":1.03,"y":-0.19},{"p":3,"x":0.14,"y":0.13},{"p":3,"x":0.24,"y":0.2},{"p":3,"x":0.4,"y":0.27},{"p":3,"x":0.61,"y":0.34},{"p":3,"x":0.76,"y":0.38}
]
},
"hconcat": [
{
 "width": 288, "height": 425,
 "title": {"text": "Původní výběr"},
 "layer": [
  {"data": {"name": "pts"}, "transform": [{"filter": "datum.p == 1"}],
   "mark": {"type": "point", "shape": "circle", "filled": false, "color": "black", "size": 30, "strokeWidth": 1.3, "opacity": 1, "clip": true},
   "encoding": {
    "x": {"field": "x", "type": "quantitative", "scale": {"domain": [-4.2, 4.82], "nice": false, "zero": false}, "axis": {"title": null, "values": [-4, -2, 0, 2, 4]}},
    "y": {"field": "y", "type": "quantitative", "scale": {"domain": [-4.19, 4.83], "nice": false, "zero": false}, "axis": {"title": null, "values": [-4, -2, 0, 2, 4]}}}},
  {"data": {"name": "lines"},
   "mark": {"type": "line", "color": "black", "strokeWidth": 1, "strokeDash": [8, 8], "clip": true},
   "encoding": {
    "x": {"field": "x", "type": "quantitative", "scale": {"domain": [-4.2, 4.82], "nice": false, "zero": false}},
    "y": {"field": "y", "type": "quantitative", "scale": {"domain": [-4.19, 4.83], "nice": false, "zero": false}},
    "detail": {"field": "l"}}}
 ]
},
{
 "width": 288, "height": 425,
 "title": {"text": "Vektorizovaný bootstrap, p = 2"},
 "layer": [
  {"data": {"name": "pts"}, "transform": [{"filter": "datum.p == 2"}],
   "mark": {"type": "point", "shape": "circle", "filled": false, "color": "black", "size": 30, "strokeWidth": 1.3, "opacity": 1, "clip": true},
   "encoding": {
    "x": {"field": "x", "type": "quantitative", "scale": {"domain": [-4.2, 4.82], "nice": false, "zero": false}, "axis": {"title": null, "values": [-4, -2, 0, 2, 4]}},
    "y": {"field": "y", "type": "quantitative", "scale": {"domain": [-4.19, 4.83], "nice": false, "zero": false}, "axis": {"title": null, "values": [-4, -2, 0, 2, 4]}}}},
  {"data": {"name": "lines"},
   "mark": {"type": "line", "color": "black", "strokeWidth": 1, "strokeDash": [8, 8], "clip": true},
   "encoding": {
    "x": {"field": "x", "type": "quantitative", "scale": {"domain": [-4.2, 4.82], "nice": false, "zero": false}},
    "y": {"field": "y", "type": "quantitative", "scale": {"domain": [-4.19, 4.83], "nice": false, "zero": false}},
    "detail": {"field": "l"}}}
 ]
},
{
 "width": 280, "height": 425,
 "title": {"text": "Naive bootstrap, p = 1"},
 "view": {"stroke": null},
 "layer": [
  {"data": {"name": "pts"}, "transform": [{"filter": "datum.p == 3"}],
   "mark": {"type": "point", "shape": "circle", "filled": false, "color": "black", "size": 30, "strokeWidth": 1.3, "opacity": 1, "clip": true},
   "encoding": {
    "x": {"field": "x", "type": "quantitative", "scale": {"domain": [-4.2, 4.57], "nice": false, "zero": false}, "axis": {"title": null, "values": [-4, -2, 0, 2, 4], "domain": true, "domainColor": "black", "domainWidth": 1}},
    "y": {"field": "y", "type": "quantitative", "scale": {"domain": [-4.19, 4.83], "nice": false, "zero": false}, "axis": {"title": null, "values": [-4, -2, 0, 2, 4], "domain": true, "domainColor": "black", "domainWidth": 1}}}},
  {"data": {"name": "lines"},
   "mark": {"type": "line", "color": "black", "strokeWidth": 1, "strokeDash": [8, 8], "clip": true},
   "encoding": {
    "x": {"field": "x", "type": "quantitative", "scale": {"domain": [-4.2, 4.57], "nice": false, "zero": false}},
    "y": {"field": "y", "type": "quantitative", "scale": {"domain": [-4.19, 4.83], "nice": false, "zero": false}},
    "detail": {"field": "l"}}},
  {"data": {"values": [{}]},
   "mark": {"type": "rule", "color": "black", "strokeWidth": 1},
   "encoding": {"y": {"datum": 4.83}}}
 ]
}
]
}
